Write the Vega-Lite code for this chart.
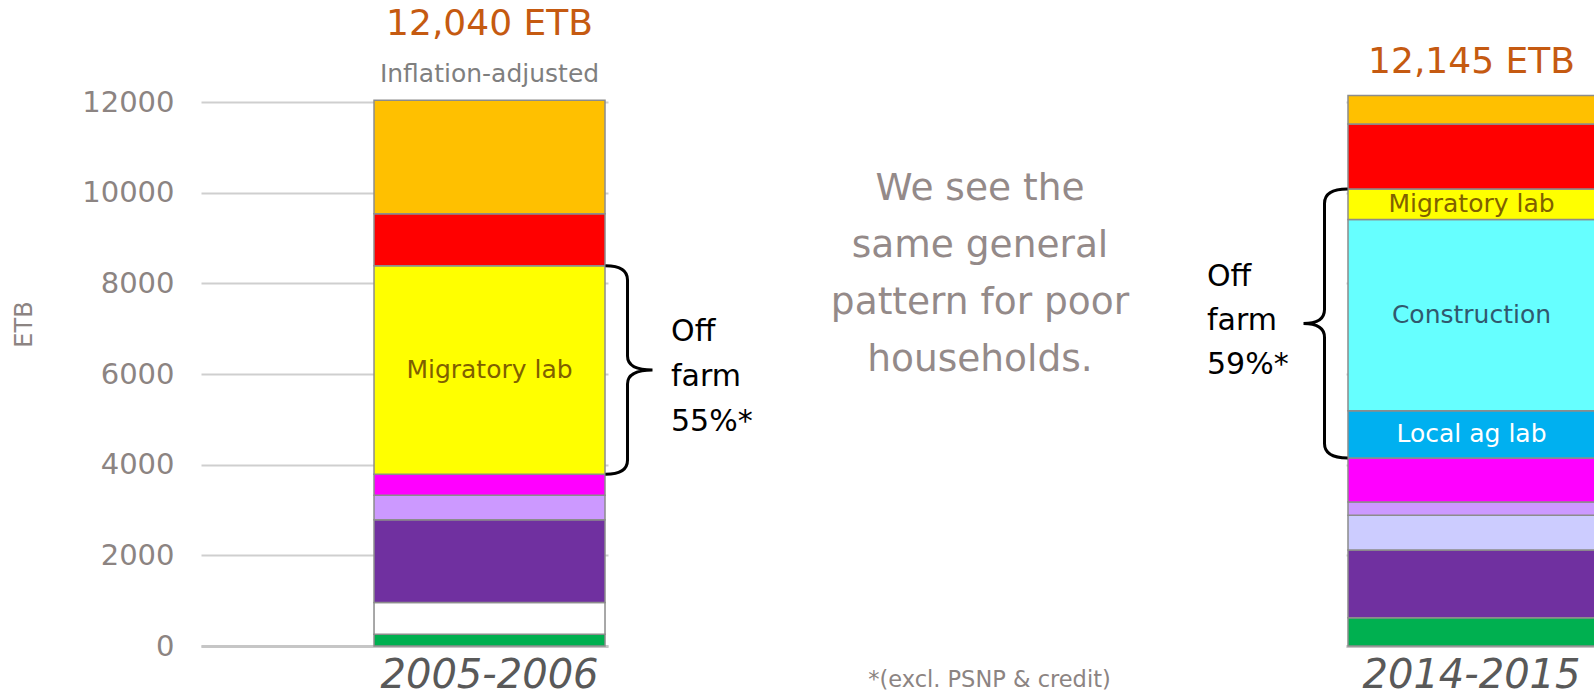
{
  "$schema": "https://vega.github.io/schema/vega-lite/v6.json",
  "background": "white",
  "padding": {"left": 12, "top": 6, "right": 0, "bottom": 0},
  "spacing": 0,
  "bounds": "flush",
  "config": {"font": "DejaVu Sans", "view": {"stroke": null}},
  "datasets": {
    "income": [
      {"period": "2005-2006", "source": "Crop sales", "order": 1, "value": 261, "label": ""},
      {"period": "2005-2006", "source": "Other farm", "order": 2, "value": 697, "label": ""},
      {"period": "2005-2006", "source": "Livestock", "order": 3, "value": 1828, "label": ""},
      {"period": "2005-2006", "source": "Livestock products", "order": 5, "value": 537, "label": ""},
      {"period": "2005-2006", "source": "Own business", "order": 6, "value": 465, "label": ""},
      {"period": "2005-2006", "source": "Migratory lab", "order": 9, "value": 4601, "label": "Migratory lab"},
      {"period": "2005-2006", "source": "Credit", "order": 10, "value": 1146, "label": ""},
      {"period": "2005-2006", "source": "PSNP", "order": 11, "value": 2505, "label": ""},
      {"period": "2014-2015", "source": "Crop sales", "order": 1, "value": 621, "label": ""},
      {"period": "2014-2015", "source": "Livestock", "order": 3, "value": 1499, "label": ""},
      {"period": "2014-2015", "source": "Other income", "order": 4, "value": 762, "label": ""},
      {"period": "2014-2015", "source": "Livestock products", "order": 5, "value": 296, "label": ""},
      {"period": "2014-2015", "source": "Own business", "order": 6, "value": 970, "label": ""},
      {"period": "2014-2015", "source": "Local ag lab", "order": 7, "value": 1042, "label": "Local ag lab"},
      {"period": "2014-2015", "source": "Construction", "order": 8, "value": 4217, "label": "Construction"},
      {"period": "2014-2015", "source": "Migratory lab", "order": 9, "value": 673, "label": "Migratory lab"},
      {"period": "2014-2015", "source": "Credit", "order": 10, "value": 1435, "label": ""},
      {"period": "2014-2015", "source": "PSNP", "order": 11, "value": 630, "label": ""}
    ],
    "notes": [
      {"period": "2005-2006", "kind": "total", "value": 12040, "text": "12,040 ETB"},
      {"period": "2005-2006", "kind": "sub", "value": 12040, "text": "Inflation-adjusted"},
      {"period": "2005-2006", "kind": "offfarm", "value": 6088.5, "text": "Off\nfarm\n55%*"},
      {"period": "2014-2015", "kind": "total", "value": 12145, "text": "12,145 ETB"},
      {"period": "2014-2015", "kind": "offfarm", "value": 7114, "text": "Off\nfarm\n59%*"},
      {"period": "note", "kind": "message", "value": 8200, "text": "We see the\nsame general\npattern for poor\nhouseholds."}
    ]
  },
  "hconcat": [
    {
      "width": 407,
      "height": 544,
      "encoding": {
        "x": {
          "field": "period", "type": "nominal",
          "scale": {"paddingInner": 0, "paddingOuter": 0.381, "align": 0.983},
          "axis": {"title": null, "labelFontSize": 40, "labelFontStyle": "italic", "labelColor": "#595959", "labelPadding": 9, "labelLimit": 400, "labelAngle": 0, "ticks": false, "domain": true, "domainColor": "#C6C6C6", "domainWidth": 3}
        }
      },
      "layer": [
        {
          "data": {"name": "income"},
          "transform": [{"filter": "datum.period === '2005-2006'"}],
          "mark": {"type": "bar", "stroke": "#8C8C8C", "strokeWidth": 1.5},
          "encoding": {
            "y": {
              "field": "value", "type": "quantitative", "stack": "zero",
              "scale": {"domain": [0, 12000], "nice": false},
              "axis": {"title": "ETB", "format": "d", "values": [0, 2000, 4000, 6000, 8000, 10000, 12000], "grid": true, "gridColor": "#CFCFCF", "gridWidth": 2, "domain": false, "ticks": false, "labelFontSize": 29, "labelColor": "#8C8482", "labelPadding": 27, "labelFlush": false, "labelBound": false, "titleFontSize": 24, "titleColor": "#8C8482", "titleFontWeight": "normal", "titleX": -177, "titleY": 222, "titleAngle": -90, "titleBaseline": "middle", "titleAlign": "center"}
            },
            "color": {
              "field": "source", "type": "nominal", "legend": null,
              "scale": {
                "domain": ["Crop sales", "Other farm", "Livestock", "Other income", "Livestock products", "Own business", "Local ag lab", "Construction", "Migratory lab", "Credit", "PSNP"],
                "range": ["#00B050", "#FFFFFF", "#7030A0", "#CCCCFF", "#CC99FF", "#FF00FF", "#00B0F0", "#66FFFF", "#FFFF00", "#FF0000", "#FFC000"]
              }
            },
            "order": {"field": "order", "type": "quantitative"}
          }
        },
        {
          "data": {"name": "income"},
          "transform": [{"filter": "datum.period === '2005-2006'"}],
          "mark": {"type": "text", "fontSize": 25, "baseline": "middle"},
          "encoding": {
            "y": {"field": "value", "type": "quantitative", "stack": "zero", "bandPosition": 0.5, "scale": {"domain": [0, 12000], "nice": false},
              "axis": {"title": "ETB", "format": "d", "values": [0, 2000, 4000, 6000, 8000, 10000, 12000], "grid": true, "gridColor": "#CFCFCF", "gridWidth": 2, "domain": false, "ticks": false, "labelFontSize": 29, "labelColor": "#8C8482", "labelPadding": 27, "labelFlush": false, "labelBound": false, "titleFontSize": 24, "titleColor": "#8C8482", "titleFontWeight": "normal", "titleX": -177, "titleY": 222, "titleAngle": -90, "titleBaseline": "middle", "titleAlign": "center"}},
            "detail": {"field": "source"},
            "order": {"field": "order", "type": "quantitative"},
            "text": {"field": "label"},
            "color": {"condition": [{"test": "datum.label === 'Local ag lab'", "value": "#FFFFFF"}, {"test": "datum.label === 'Construction'", "value": "#31596E"}], "value": "#7F6000"}
          }
        },
        {
          "data": {"name": "notes"},
          "transform": [{"filter": "datum.period === '2005-2006' && datum.kind === 'total'"}],
          "mark": {"type": "text", "fontSize": 36, "color": "#C55A11", "baseline": "alphabetic", "dy": -65},
          "encoding": {"y": {"field": "value", "type": "quantitative", "scale": {"domain": [0, 12000], "nice": false},
              "axis": {"title": "ETB", "format": "d", "values": [0, 2000, 4000, 6000, 8000, 10000, 12000], "grid": true, "gridColor": "#CFCFCF", "gridWidth": 2, "domain": false, "ticks": false, "labelFontSize": 29, "labelColor": "#8C8482", "labelPadding": 27, "labelFlush": false, "labelBound": false, "titleFontSize": 24, "titleColor": "#8C8482", "titleFontWeight": "normal", "titleX": -177, "titleY": 222, "titleAngle": -90, "titleBaseline": "middle", "titleAlign": "center"}}, "text": {"field": "text"}}
        },
        {
          "data": {"name": "notes"},
          "transform": [{"filter": "datum.period === '2005-2006' && datum.kind === 'sub'"}],
          "mark": {"type": "text", "fontSize": 25, "color": "#7F7F7F", "baseline": "alphabetic", "dy": -18},
          "encoding": {"y": {"field": "value", "type": "quantitative", "scale": {"domain": [0, 12000], "nice": false},
              "axis": {"title": "ETB", "format": "d", "values": [0, 2000, 4000, 6000, 8000, 10000, 12000], "grid": true, "gridColor": "#CFCFCF", "gridWidth": 2, "domain": false, "ticks": false, "labelFontSize": 29, "labelColor": "#8C8482", "labelPadding": 27, "labelFlush": false, "labelBound": false, "titleFontSize": 24, "titleColor": "#8C8482", "titleFontWeight": "normal", "titleX": -177, "titleY": 222, "titleAngle": -90, "titleBaseline": "middle", "titleAlign": "center"}}, "text": {"field": "text"}}
        },
        {
          "data": {"name": "notes"},
          "transform": [{"filter": "datum.period === '2005-2006' && datum.kind === 'offfarm'"}],
          "mark": {"type": "text", "fontSize": 30, "color": "#000000", "align": "left", "baseline": "middle", "lineBreak": "\n", "lineHeight": 45, "dx": 181.5, "dy": -38},
          "encoding": {"y": {"field": "value", "type": "quantitative", "scale": {"domain": [0, 12000], "nice": false},
              "axis": {"title": "ETB", "format": "d", "values": [0, 2000, 4000, 6000, 8000, 10000, 12000], "grid": true, "gridColor": "#CFCFCF", "gridWidth": 2, "domain": false, "ticks": false, "labelFontSize": 29, "labelColor": "#8C8482", "labelPadding": 27, "labelFlush": false, "labelBound": false, "titleFontSize": 24, "titleColor": "#8C8482", "titleFontWeight": "normal", "titleX": -177, "titleY": 222, "titleAngle": -90, "titleBaseline": "middle", "titleAlign": "center"}}, "text": {"field": "text"}}
        },
        {
          "data": {"name": "notes"},
          "transform": [{"filter": "datum.period === '2005-2006' && datum.kind === 'offfarm'"}],
          "mark": {"type": "point", "shape": "M1.16,-1.043Q1.38,-1.043 1.38,-0.9L1.38,-0.14Q1.38,0 1.63,0Q1.38,0 1.38,0.14L1.38,0.9Q1.38,1.043 1.16,1.043", "size": 40000, "filled": false, "color": "#000000", "strokeWidth": 3, "opacity": 1},
          "encoding": {"y": {"field": "value", "type": "quantitative", "scale": {"domain": [0, 12000], "nice": false},
              "axis": {"title": "ETB", "format": "d", "values": [0, 2000, 4000, 6000, 8000, 10000, 12000], "grid": true, "gridColor": "#CFCFCF", "gridWidth": 2, "domain": false, "ticks": false, "labelFontSize": 29, "labelColor": "#8C8482", "labelPadding": 27, "labelFlush": false, "labelBound": false, "titleFontSize": 24, "titleColor": "#8C8482", "titleFontWeight": "normal", "titleX": -177, "titleY": 222, "titleAngle": -90, "titleBaseline": "middle", "titleAlign": "center"}}}
        }
      ]
    },
    {
      "width": 738,
      "height": 544,
      "data": {"name": "notes"},
      "transform": [{"filter": "datum.period === 'note'"}],
      "mark": {"type": "text", "fontSize": 37.5, "color": "#948A89", "align": "center", "baseline": "middle", "lineBreak": "\n", "lineHeight": 57, "dx": 3, "dy": -85.5},
      "encoding": {
        "x": {
          "field": "period", "type": "nominal",
          "axis": {"labels": false, "ticks": false, "domain": false, "grid": false, "title": "*(excl. PSNP & credit)", "titleFontSize": 22.5, "titleColor": "#8C8482", "titleFontWeight": "normal", "titlePadding": 22, "titleX": 381}
        },
        "y": {"field": "value", "type": "quantitative", "scale": {"domain": [0, 12000], "nice": false}, "axis": null},
        "text": {"field": "text"}
      }
    },
    {
      "width": 249,
      "height": 544,
      "encoding": {
        "x": {
          "field": "period", "type": "nominal",
          "scale": {"paddingInner": 0, "paddingOuter": 0.00405, "align": 1},
          "axis": {"title": null, "labelFontSize": 40, "labelFontStyle": "italic", "labelColor": "#595959", "labelPadding": 9, "labelLimit": 400, "labelAngle": 0, "ticks": false, "domain": true, "domainColor": "#C6C6C6", "domainWidth": 3}
        }
      },
      "layer": [
        {
          "data": {"name": "income"},
          "transform": [{"filter": "datum.period === '2014-2015'"}],
          "mark": {"type": "bar", "stroke": "#8C8C8C", "strokeWidth": 1.5},
          "encoding": {
            "y": {
              "field": "value", "type": "quantitative", "stack": "zero",
              "scale": {"domain": [0, 12000], "nice": false},
              "axis": {"title": null, "values": [0, 2000, 4000, 6000, 8000, 10000, 12000], "grid": true, "gridColor": "#CFCFCF", "gridWidth": 2, "domain": false, "ticks": false, "labels": false}
            },
            "color": {
              "field": "source", "type": "nominal", "legend": null,
              "scale": {
                "domain": ["Crop sales", "Other farm", "Livestock", "Other income", "Livestock products", "Own business", "Local ag lab", "Construction", "Migratory lab", "Credit", "PSNP"],
                "range": ["#00B050", "#FFFFFF", "#7030A0", "#CCCCFF", "#CC99FF", "#FF00FF", "#00B0F0", "#66FFFF", "#FFFF00", "#FF0000", "#FFC000"]
              }
            },
            "order": {"field": "order", "type": "quantitative"}
          }
        },
        {
          "data": {"name": "income"},
          "transform": [{"filter": "datum.period === '2014-2015'"}],
          "mark": {"type": "text", "fontSize": 25, "baseline": "middle"},
          "encoding": {
            "y": {"field": "value", "type": "quantitative", "stack": "zero", "bandPosition": 0.5, "scale": {"domain": [0, 12000], "nice": false},
              "axis": {"title": null, "values": [0, 2000, 4000, 6000, 8000, 10000, 12000], "grid": true, "gridColor": "#CFCFCF", "gridWidth": 2, "domain": false, "ticks": false, "labels": false}},
            "detail": {"field": "source"},
            "order": {"field": "order", "type": "quantitative"},
            "text": {"field": "label"},
            "color": {"condition": [{"test": "datum.label === 'Local ag lab'", "value": "#FFFFFF"}, {"test": "datum.label === 'Construction'", "value": "#31596E"}], "value": "#7F6000"}
          }
        },
        {
          "data": {"name": "notes"},
          "transform": [{"filter": "datum.period === '2014-2015' && datum.kind === 'total'"}],
          "mark": {"type": "text", "fontSize": 36, "color": "#C55A11", "baseline": "alphabetic", "dy": -22},
          "encoding": {"y": {"field": "value", "type": "quantitative", "scale": {"domain": [0, 12000], "nice": false},
              "axis": {"title": null, "values": [0, 2000, 4000, 6000, 8000, 10000, 12000], "grid": true, "gridColor": "#CFCFCF", "gridWidth": 2, "domain": false, "ticks": false, "labels": false}}, "text": {"field": "text"}}
        },
        {
          "data": {"name": "notes"},
          "transform": [{"filter": "datum.period === '2014-2015' && datum.kind === 'offfarm'"}],
          "mark": {"type": "text", "fontSize": 30, "color": "#000000", "align": "left", "baseline": "middle", "lineBreak": "\n", "lineHeight": 44, "dx": -264.5, "dy": -46},
          "encoding": {"y": {"field": "value", "type": "quantitative", "scale": {"domain": [0, 12000], "nice": false},
              "axis": {"title": null, "values": [0, 2000, 4000, 6000, 8000, 10000, 12000], "grid": true, "gridColor": "#CFCFCF", "gridWidth": 2, "domain": false, "ticks": false, "labels": false}}, "text": {"field": "text"}}
        },
        {
          "data": {"name": "notes"},
          "transform": [{"filter": "datum.period === '2014-2015' && datum.kind === 'offfarm'"}],
          "mark": {"type": "point", "shape": "M-1.24,-1.344Q-1.47,-1.344 -1.47,-1.2L-1.47,-0.14Q-1.47,0 -1.68,0Q-1.47,0 -1.47,0.14L-1.47,1.2Q-1.47,1.344 -1.24,1.344", "size": 40000, "filled": false, "color": "#000000", "strokeWidth": 3, "opacity": 1},
          "encoding": {"y": {"field": "value", "type": "quantitative", "scale": {"domain": [0, 12000], "nice": false},
              "axis": {"title": null, "values": [0, 2000, 4000, 6000, 8000, 10000, 12000], "grid": true, "gridColor": "#CFCFCF", "gridWidth": 2, "domain": false, "ticks": false, "labels": false}}}
        }
      ]
    }
  ]
}
